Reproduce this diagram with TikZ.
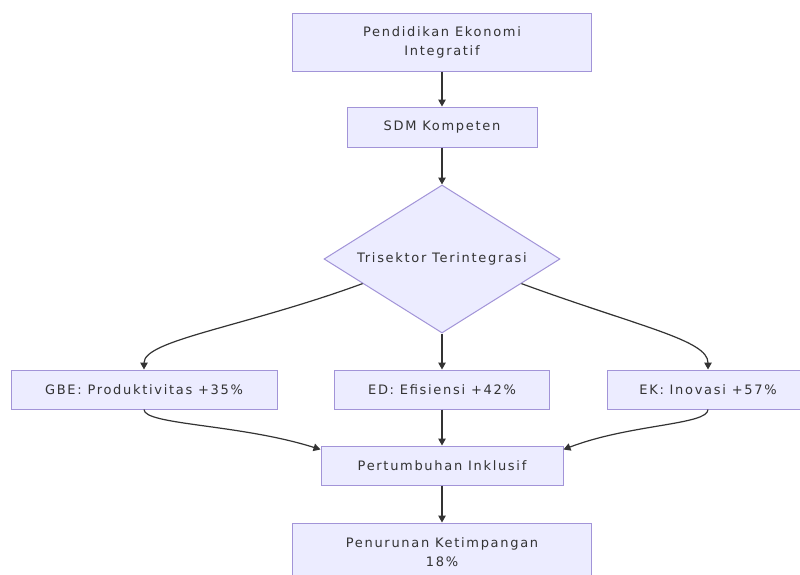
\documentclass[tikz,border=0pt]{standalone}
\usepackage{fontspec}
\setmainfont[LetterSpace=13]{DejaVu Sans}
\usetikzlibrary{shapes.geometric,arrows.meta,calc}
\definecolor{nodefill}{HTML}{ECECFF}
\definecolor{nodeline}{HTML}{A294D8}
\definecolor{txt}{HTML}{333333}
\definecolor{edge}{HTML}{333333}
\tikzset{
  boxnode/.style={draw=nodeline, fill=nodefill, line width=1pt, text=txt,
    inner sep=0pt, align=center, font=\fontsize{13}{19}\selectfont},
  dianode/.style={boxnode, diamond, aspect=1.6},
  conn/.style={draw=edge, line width=1.2pt, -{Triangle[length=7pt,width=7.5pt]}}
}
\begin{document}
\begin{tikzpicture}[x=1pt,y=-1pt]
\useasboundingbox (0,0) rectangle (800,574);
\clip (0,0) rectangle (800,574);
\fill[white] (0,0) rectangle (800,574);
\node[boxnode, minimum width=299pt, minimum height=58pt] (b1) at (442,42) {Pendidikan Ekonomi\\Integratif};
\node[boxnode, minimum width=190pt, minimum height=40pt] (b2) at (442,127) {SDM Kompeten};
\node[dianode, minimum width=236pt, minimum height=148pt] (dia) at (442,259) {Trisektor Terintegrasi};
\node[boxnode, minimum width=266pt, minimum height=39pt] (gbe) at (144,389.5) {GBE: Produktivitas +35\%};
\node[boxnode, minimum width=215pt, minimum height=39pt] (ed) at (442,389.5) {ED: Efisiensi +42\%};
\node[boxnode, minimum width=202pt, minimum height=39pt] (ek) at (708,389.5) {EK: Inovasi +57\%};
\node[boxnode, minimum width=242pt, minimum height=39pt] (pert) at (442,465.5) {Pertumbuhan Inklusif};
\node[boxnode, minimum width=299pt, minimum height=58pt] (pen) at (442,552) {Penurunan Ketimpangan\\18\%};
\coordinate (dl) at ($(dia.west)!0.33!(dia.south)$);
\coordinate (dr) at ($(dia.east)!0.33!(dia.south)$);
\coordinate (pl) at ($(pert.north west)+(0,4)$);
\coordinate (pr) at ($(pert.north east)+(0,4)$);
\draw[conn] (b1) -- (b2);
\draw[conn] (b2) -- (dia);
\draw[conn] (dl) .. controls (244,327) and (144,340) .. (gbe.north);
\draw[conn] (dia) -- (ed);
\draw[conn] (dr) .. controls (640,327) and (708,340) .. (ek.north);
\draw[conn] (gbe.south) .. controls (144,425) and (240,424) .. (pl);
\draw[conn] (ed) -- (pert);
\draw[conn] (ek.south) .. controls (708,425) and (630,424) .. (pr);
\draw[conn] (pert) -- (pen);
\end{tikzpicture}
\end{document}
